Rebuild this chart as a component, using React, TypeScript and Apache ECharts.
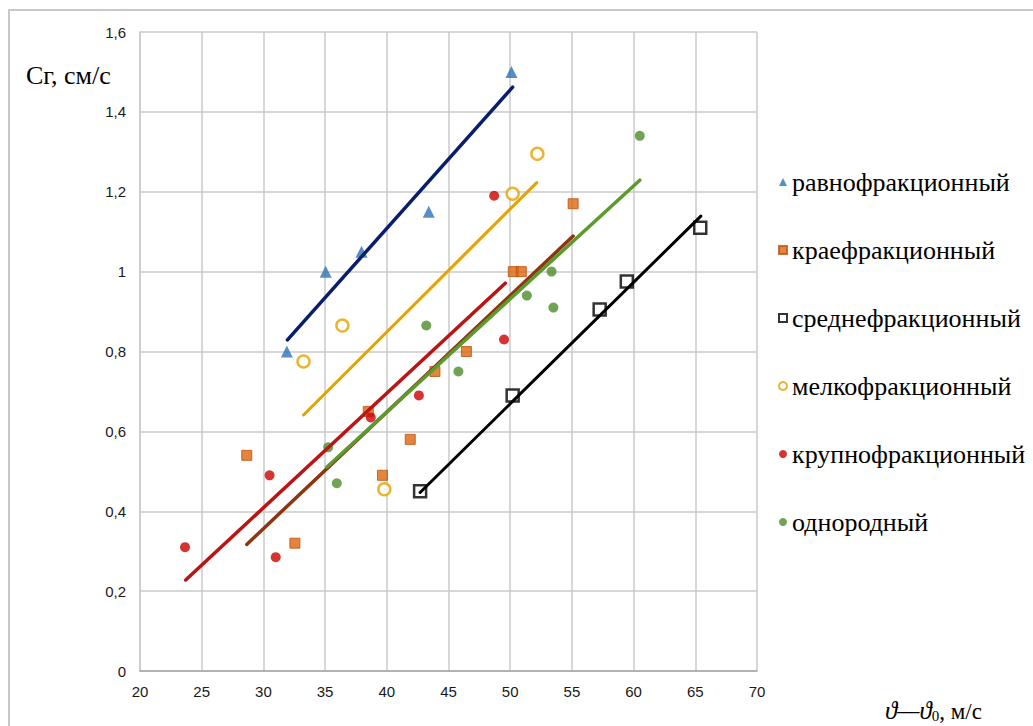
import React, { useEffect, useRef } from "react";
import * as echarts from "echarts";

// ---- data ----
const seriesNames = [
  "равнофракционный",
  "краефракционный",
  "среднефракционный",
  "мелкофракционный",
  "крупнофракционный",
  "однородный",
];

const ravnoX = [31.9, 35.05, 37.95, 43.4, 50.1];
const ravnoY = [0.8, 1.0, 1.05, 1.15, 1.5];
const kraeX = [28.65, 32.55, 38.5, 39.65, 41.9, 43.9, 46.45, 50.25, 50.9, 55.1];
const kraeY = [0.54, 0.32, 0.65, 0.49, 0.58, 0.75, 0.8, 1.0, 1.0, 1.17];
const sredX = [42.7, 50.2, 57.25, 59.45, 65.4];
const sredY = [0.45, 0.69, 0.905, 0.975, 1.11];
const melkX = [33.25, 36.4, 39.8, 50.2, 52.2];
const melkY = [0.775, 0.865, 0.455, 1.195, 1.295];
const krupX = [23.65, 30.5, 31.0, 38.7, 42.6, 48.7, 49.5];
const krupY = [0.31, 0.49, 0.285, 0.635, 0.69, 1.19, 0.83];
const odnoX = [35.25, 35.95, 43.2, 45.8, 51.35, 53.35, 53.5, 60.5];
const odnoY = [0.56, 0.47, 0.865, 0.75, 0.94, 1.0, 0.91, 1.34];

// trend line end points (x, y)
const ravnoTrendX = [31.95, 50.2];
const ravnoTrendY = [0.829, 1.462];
const kraeTrendX = [28.65, 55.1];
const kraeTrendY = [0.317, 1.089];
const sredTrendX = [42.7, 65.45];
const sredTrendY = [0.447, 1.139];
const melkTrendX = [33.25, 52.15];
const melkTrendY = [0.641, 1.223];
const krupTrendX = [23.7, 49.6];
const krupTrendY = [0.228, 0.971];
const odnoTrendX = [35.15, 60.5];
const odnoTrendY = [0.511, 1.229];

const xMin = 20;
const xMax = 70;
const xStep = 5;
const yMin = 0;
const yMax = 1.6;
const yStep = 0.2;

const yAxisTitle = "Cг, см/с";

const pairs = (xs: number[], ys: number[]) => xs.map((x, i) => [x, ys[i]]);

export default function App() {
  const ref = useRef<HTMLDivElement>(null);
  useEffect(() => {
    document.body.style.margin = "0";
    if (!ref.current) return;
    const chart = echarts.init(ref.current, null, { renderer: "svg" });
    const serif = "'Liberation Serif', 'Times New Roman', serif";
    const sans = "'Liberation Sans', Arial, sans-serif";

    const scatterDefs = [
      { name: seriesNames[0], xs: ravnoX, ys: ravnoY, symbol: "triangle", size: 12, itemStyle: { color: "#2E72B8" } },
      { name: seriesNames[1], xs: kraeX, ys: kraeY, symbol: "rect", size: 10, itemStyle: { color: "#DC650F", borderColor: "#C0500A", borderWidth: 1 } },
      { name: seriesNames[2], xs: sredX, ys: sredY, symbol: "rect", size: 12, itemStyle: { color: "#FFFFFF", borderColor: "#000000", borderWidth: 2.5 } },
      { name: seriesNames[3], xs: melkX, ys: melkY, symbol: "circle", size: 12, itemStyle: { color: "#FFFFFF", borderColor: "#E3A300", borderWidth: 2.5 } },
      { name: seriesNames[4], xs: krupX, ys: krupY, symbol: "circle", size: 10, itemStyle: { color: "#CC0000" } },
      { name: seriesNames[5], xs: odnoX, ys: odnoY, symbol: "circle", size: 10, itemStyle: { color: "#4E8B2C" } },
    ];
    const trendDefs = [
      { xs: ravnoTrendX, ys: ravnoTrendY, color: "#0A1F6B", width: 3.5 },
      { xs: kraeTrendX, ys: kraeTrendY, color: "#8E3510", width: 3.5 },
      { xs: sredTrendX, ys: sredTrendY, color: "#000000", width: 3 },
      { xs: melkTrendX, ys: melkTrendY, color: "#E3A300", width: 3 },
      { xs: krupTrendX, ys: krupTrendY, color: "#BC1414", width: 3.5 },
      { xs: odnoTrendX, ys: odnoTrendY, color: "#5B9B2E", width: 3.5 },
    ];

    const series: any[] = [];
    scatterDefs.forEach((d) => {
      series.push({
        type: "scatter",
        name: d.name,
        data: pairs(d.xs, d.ys),
        symbol: d.symbol,
        symbolSize: d.size,
        itemStyle: d.itemStyle,
        z: 2,
      });
    });
    trendDefs.forEach((t, i) => {
      series.push({
        type: "line",
        name: "trend" + i,
        data: pairs(t.xs, t.ys),
        showSymbol: false,
        symbol: "none",
        lineStyle: { color: t.color, width: t.width, cap: "round" },
        z: 3,
        silent: true,
      });
    });

    const fmtY = (v: number) => {
      const r = Math.round(v * 10) / 10;
      return String(r).replace(".", ",");
    };

    chart.setOption({
      animation: false,
      backgroundColor: "#ffffff",
      grid: { left: 140, top: 32, width: 617, height: 639, containLabel: false },
      xAxis: {
        type: "value",
        min: xMin,
        max: xMax,
        interval: xStep,
        axisLine: { show: true, lineStyle: { color: "#A6A6A6", width: 1.5 } },
        axisTick: { show: false },
        splitLine: { show: true, lineStyle: { color: "#CACACA", width: 1.5 } },
        axisLabel: { fontSize: 15, color: "#1a1a1a", fontFamily: sans, margin: 13 },
      },
      yAxis: {
        type: "value",
        min: yMin,
        max: yMax,
        interval: yStep,
        axisLine: { show: true, lineStyle: { color: "#CACACA", width: 1.5 } },
        axisTick: { show: false },
        splitLine: { show: true, lineStyle: { color: "#CACACA", width: 1.5 } },
        axisLabel: { fontSize: 15, color: "#1a1a1a", fontFamily: sans, margin: 14, formatter: fmtY },
      },
      legend: {
        data: seriesNames,
        orient: "vertical",
        left: 773,
        top: 162,
        itemWidth: 8,
        itemHeight: 8,
        itemGap: 38,
        textStyle: { fontFamily: serif, fontSize: 26, color: "#000", lineHeight: 30, padding: [0, 0, 0, 0] },
        selectedMode: false,
      },
      graphic: [
        {
          type: "rect",
          shape: { x: 9, y: 10, width: 1200, height: 900 },
          style: { fill: "none", stroke: "#C8C8C8", lineWidth: 2 },
          silent: true,
          z: -10,
        },
        {
          type: "text",
          x: 26,
          y: 75,
          style: {
            text: yAxisTitle,
            font: "26px " + serif,
            fill: "#000",
            verticalAlign: "middle",
          },
        },
        {
          type: "text",
          x: 885,
          y: 697,
          style: {
            text: "{i|ϑ—ϑ}{s|0}{n|, м/с}",
            fill: "#000",
            verticalAlign: "top",
            rich: {
              i: { fontFamily: serif, fontSize: 25, fontStyle: "italic", lineHeight: 26, verticalAlign: "bottom" },
              s: { fontFamily: serif, fontSize: 15, lineHeight: 26, padding: [8, 0, 0, 0], verticalAlign: "bottom" },
              n: { fontFamily: serif, fontSize: 23, lineHeight: 26, verticalAlign: "bottom" },
            },
          },
        },
      ],
      series,
    });
    return () => chart.dispose();
  }, []);
  return <div ref={ref} style={{ width: 1033, height: 726 }} />;
}
